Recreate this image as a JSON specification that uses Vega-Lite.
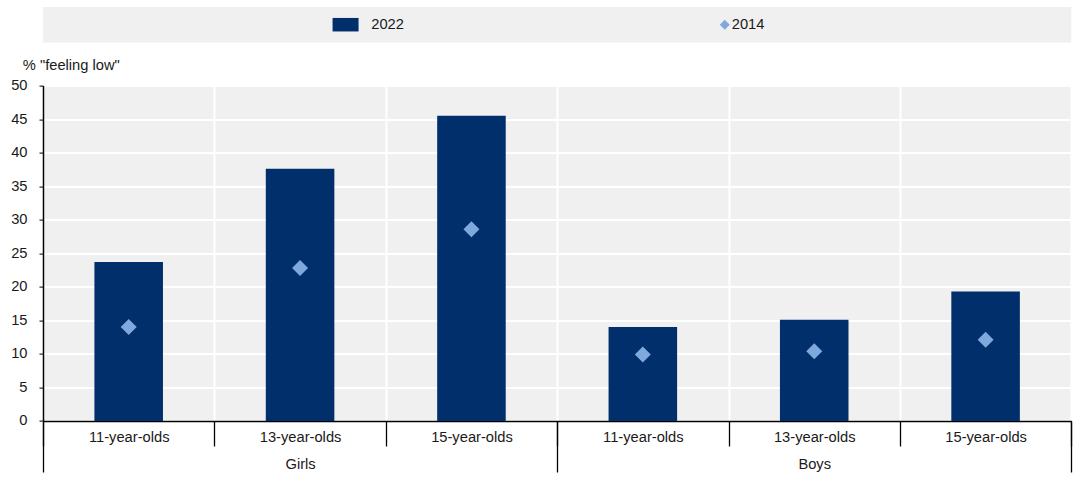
{
  "$schema": "https://vega.github.io/schema/vega-lite/v6.json",
  "padding": {"left": 10, "top": 7, "right": 8, "bottom": 9},
  "bounds": "flush",
  "spacing": 42.6,
  "config": {
    "font": "Liberation Sans",
    "view": {"fill": "#f0f0f0", "stroke": null},
    "axis": {"labelColor": "#1a1a1a", "titleColor": "#1a1a1a", "labelFontSize": 14.7, "titleFontSize": 14.7}
  },
  "vconcat": [
    {
      "width": 1028.3,
      "height": 35.4,
      "data": {"values": [{"series": "2022"}, {"series": "2014"}]},
      "encoding": {
        "x": {
          "field": "series",
          "type": "nominal",
          "scale": {"type": "point", "domain": ["2022", "2014"], "padding": 0.856},
          "axis": null
        }
      },
      "layer": [
        {
          "transform": [{"filter": "datum.series === '2022'"}],
          "mark": {"type": "point", "shape": "M-1,-0.52H1V0.52H-1Z", "filled": true, "color": "#002F6C", "size": 676, "opacity": 1, "xOffset": -22}
        },
        {
          "transform": [{"filter": "datum.series === '2014'"}],
          "mark": {"type": "point", "shape": "diamond", "filled": true, "color": "#7FA8DC", "size": 100, "opacity": 1, "xOffset": -22}
        },
        {
          "transform": [{"filter": "datum.series === '2022'"}],
          "mark": {"type": "text", "align": "left", "baseline": "middle", "fontSize": 14.7, "color": "#1a1a1a", "xOffset": -22, "dx": 25.7},
          "encoding": {"text": {"field": "series"}}
        },
        {
          "transform": [{"filter": "datum.series === '2014'"}],
          "mark": {"type": "text", "align": "left", "baseline": "middle", "fontSize": 14.7, "color": "#1a1a1a", "xOffset": -22, "dx": 7},
          "encoding": {"text": {"field": "series"}}
        }
      ]
    },
    {
      "width": 1028.3,
      "height": 335.4,
      "data": {
        "values": [
          {"category": "Girls|11-year-olds", "gender": "Girls", "year": "2022", "value": 23.7},
          {"category": "Girls|13-year-olds", "gender": "Girls", "year": "2022", "value": 37.6},
          {"category": "Girls|15-year-olds", "gender": "Girls", "year": "2022", "value": 45.5},
          {"category": "Boys|11-year-olds", "gender": "Boys", "year": "2022", "value": 14.0},
          {"category": "Boys|13-year-olds", "gender": "Boys", "year": "2022", "value": 15.1},
          {"category": "Boys|15-year-olds", "gender": "Boys", "year": "2022", "value": 19.3},
          {"category": "Girls|11-year-olds", "gender": "Girls", "year": "2014", "value": 14.0},
          {"category": "Girls|13-year-olds", "gender": "Girls", "year": "2014", "value": 22.8},
          {"category": "Girls|15-year-olds", "gender": "Girls", "year": "2014", "value": 28.6},
          {"category": "Boys|11-year-olds", "gender": "Boys", "year": "2014", "value": 9.9},
          {"category": "Boys|13-year-olds", "gender": "Boys", "year": "2014", "value": 10.4},
          {"category": "Boys|15-year-olds", "gender": "Boys", "year": "2014", "value": 12.1}
        ]
      },
      "layer": [
        {
          "encoding": {
            "x": {
              "field": "category",
              "type": "nominal",
              "sort": null,
              "scale": {"type": "band", "paddingInner": 0, "paddingOuter": 0},
              "axis": {
                "orient": "bottom",
                "title": null,
                "labelExpr": "split(datum.value, '|')[1]",
                "labelAngle": 0,
                "labelBaseline": "alphabetic",
                "labelPadding": -4,
                "tickBand": "extent",
                "tickSize": 25,
                "tickColor": "#000",
                "tickWidth": 1.3,
                "domainColor": "#000",
                "domainWidth": 1.5,
                "grid": true,
                "gridColor": "#ffffff",
                "gridWidth": 2
              }
            },
            "y": {
              "field": "value",
              "type": "quantitative",
              "stack": null,
              "scale": {"domain": [0, 50], "nice": false},
              "axis": {
                "title": "% \"feeling low\"",
                "titleAngle": 0,
                "titleAlign": "left",
                "titleBaseline": "alphabetic",
                "titleX": -20.7,
                "titleY": -16.3,
                "titleFontWeight": "normal",
                "values": [0, 5, 10, 15, 20, 25, 30, 35, 40, 45, 50],
                "tickCount": 20,
                "labelOverlap": false,
                "domainColor": "#000",
                "domainWidth": 1.5,
                "tickColor": "#000",
                "tickSize": 4,
                "labelPadding": 12,
                "gridColor": "#ffffff",
                "gridWidth": 2
              }
            }
          },
          "layer": [
            {
              "transform": [{"filter": "datum.year === '2022'"}],
              "mark": {"type": "bar", "color": "#002F6C", "width": {"band": 0.4}}
            },
            {
              "transform": [{"filter": "datum.year === '2014'"}],
              "mark": {"type": "point", "shape": "diamond", "filled": true, "color": "#7FA8DC", "size": 256, "opacity": 1}
            }
          ]
        },
        {
          "transform": [{"filter": "datum.year === '2022'"}],
          "mark": {"type": "point", "opacity": 0},
          "encoding": {
            "x": {
              "field": "gender",
              "type": "nominal",
              "sort": null,
              "scale": {"type": "band", "paddingInner": 0, "paddingOuter": 0},
              "axis": {
                "orient": "bottom",
                "title": null,
                "labelAngle": 0,
                "labelBaseline": "alphabetic",
                "labelPadding": -3.4,
                "tickBand": "extent",
                "tickSize": 51,
                "tickColor": "#000",
                "tickWidth": 1.3,
                "domain": false,
                "grid": false
              }
            }
          }
        }
      ],
      "resolve": {"scale": {"x": "independent"}, "axis": {"x": "independent"}}
    }
  ]
}
